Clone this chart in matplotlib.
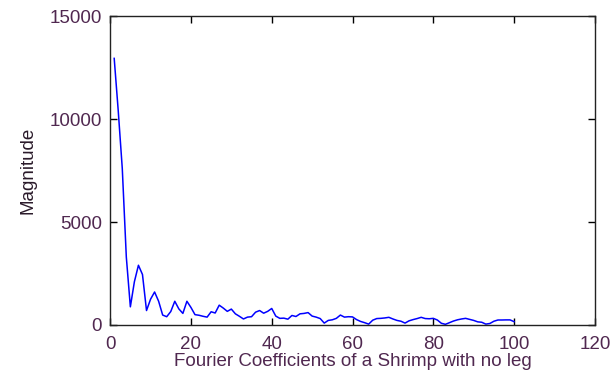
import matplotlib
matplotlib.use('Agg')
import matplotlib.pyplot as plt

# Fourier coefficient magnitudes, index 1..100
coeff_index = list(range(1, 101))
magnitude = [
    12950, 10400, 7600, 3300, 880, 2100, 2900, 2450, 700, 1250,
    1600, 1150, 480, 400, 650, 1150, 780, 560, 1150, 850,
    500, 470, 420, 380, 640, 580, 960, 820, 660, 770,
    540, 420, 290, 380, 400, 620, 700, 570, 660, 800,
    430, 320, 330, 280, 460, 410, 540, 560, 600, 430,
    380, 310, 90, 220, 250, 320, 480, 380, 400, 390,
    260, 170, 110, 40, 230, 310, 320, 340, 370, 290,
    220, 180, 90, 200, 260, 310, 370, 310, 300, 320,
    240, 80, 30, 110, 190, 250, 290, 320, 270, 220,
    150, 130, 40, 70, 180, 240, 240, 245, 245, 160,
]

x_ticks = [0, 20, 40, 60, 80, 100, 120]
y_ticks = [0, 5000, 10000, 15000]

TEXT_COLOR = '#502850'

plt.rcParams['font.family'] = ['Liberation Sans', 'DejaVu Sans']

fig = plt.figure(figsize=(6.12, 3.85), dpi=100)
ax = fig.add_axes([0.18, 0.156, 0.792, 0.802])

ax.plot(coeff_index, magnitude, color='#0000ff', linewidth=1.1)

ax.set_xlim(0, 120)
ax.set_ylim(0, 15000)
ax.set_xticks(x_ticks)
ax.set_yticks(y_ticks)
ax.tick_params(direction='in', length=5, width=1, top=True, right=True,
               labelsize=13.5, labelcolor=TEXT_COLOR, pad=6)
ax.tick_params(axis='x', pad=8)
for spine in ax.spines.values():
    spine.set_linewidth(1.0)
    spine.set_color('#222222')

ax.set_xlabel('Fourier Coefficients of a Shrimp with no leg', fontsize=13.5,
              color=TEXT_COLOR, labelpad=0)
ax.set_ylabel('Magnitude', fontsize=13.5, color='#2a1a2a', labelpad=9)

fig.savefig('out.png', dpi=100)
plt.close(fig)
